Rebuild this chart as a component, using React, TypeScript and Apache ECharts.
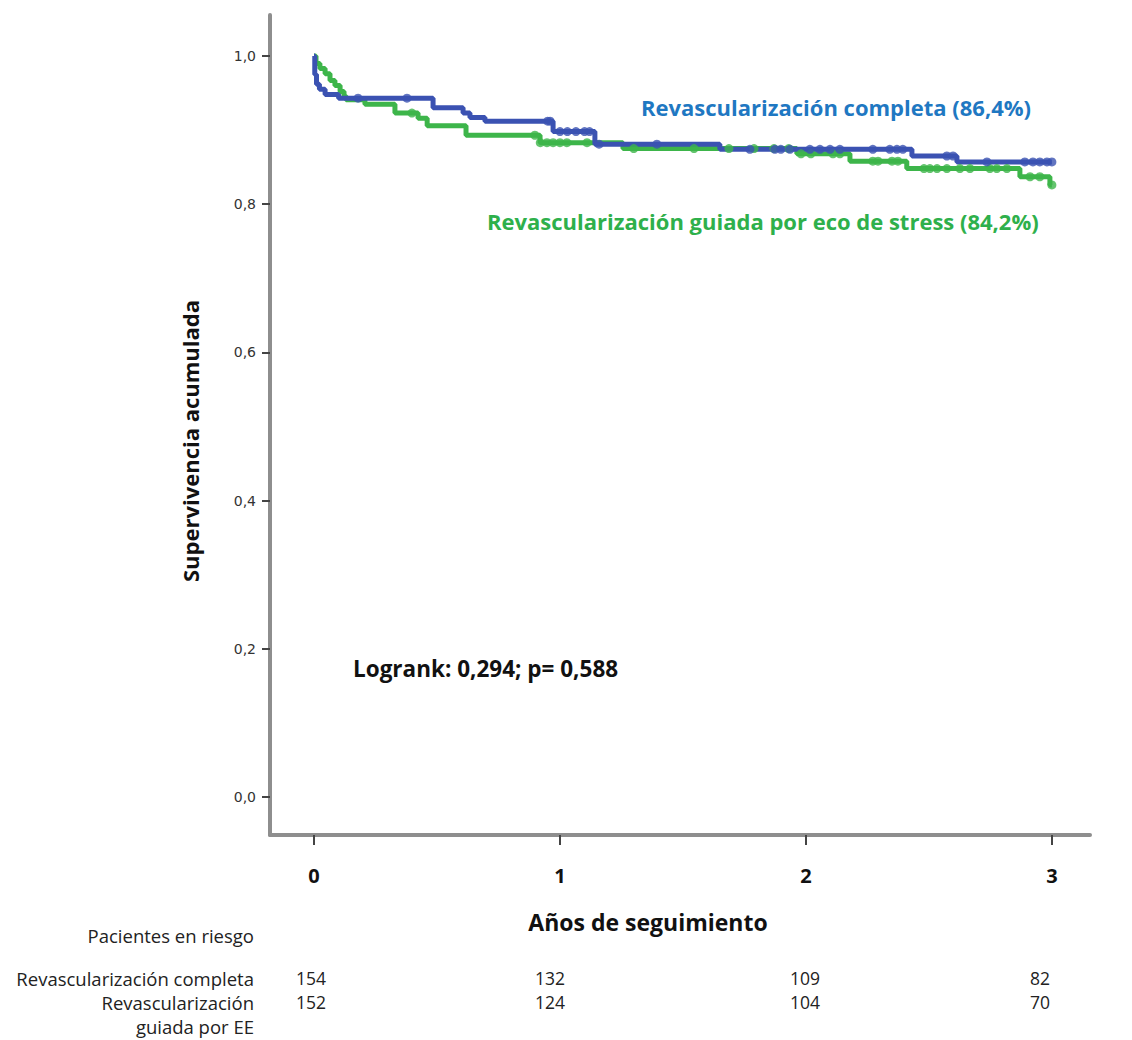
import React, { useEffect, useRef } from "react";
import * as echarts from "echarts";

// Kaplan-Meier step points [years, cumulative survival]
const blueSteps: [number, number][] = [
  [0, 1.0], [0.003, 0.975], [0.01, 0.962], [0.022, 0.955], [0.045, 0.948], [0.1, 0.943],
  [0.484, 0.93], [0.606, 0.923], [0.634, 0.917], [0.695, 0.912], [0.972, 0.898],
  [1.142, 0.881], [1.65, 0.874], [2.431, 0.865], [2.614, 0.857], [3.0, 0.857],
];
const greenSteps: [number, number][] = [
  [0, 1.0], [0.008, 0.99], [0.024, 0.983], [0.045, 0.976], [0.065, 0.967], [0.085, 0.96],
  [0.106, 0.952], [0.122, 0.946], [0.13, 0.941], [0.207, 0.935], [0.329, 0.923],
  [0.423, 0.916], [0.46, 0.906], [0.618, 0.893], [0.919, 0.883], [1.256, 0.875],
  [1.963, 0.868], [2.179, 0.858], [2.41, 0.848], [2.87, 0.837], [2.992, 0.826], [3.0, 0.826],
];
// censored times
const blueCensor = [0.179, 0.378, 0.95, 0.96, 1.0, 1.03, 1.065, 1.1, 1.12, 1.159, 1.394, 1.772,
  1.874, 1.898, 1.935, 2.016, 2.057, 2.098, 2.138, 2.272, 2.341, 2.37, 2.394, 2.573, 2.598,
  2.736, 2.89, 2.923, 2.951, 2.98, 3.0];
const greenCensor = [0.398, 0.898, 0.92, 0.947, 0.972, 1.0, 1.028, 1.11, 1.3, 1.545, 1.687,
  1.789, 1.87, 1.93, 1.98, 2.02, 2.11, 2.138, 2.272, 2.293, 2.35, 2.374, 2.48, 2.504, 2.533,
  2.573, 2.626, 2.667, 2.748, 2.776, 2.817, 2.911, 2.951, 3.0];

const xTicks = [0, 1, 2, 3];
const yTicks = [0, 0.2, 0.4, 0.6, 0.8, 1.0];

const riskHeader = "Pacientes en riesgo";
const riskGroups = ["Revascularización completa", "Revascularización", "guiada por EE"];
const riskBlue = ["154", "132", "109", "82"];
const riskGreen = ["152", "124", "104", "70"];

const labelBlue = "Revascularización completa (86,4%)";
const labelGreen = "Revascularización guiada por eco de stress (84,2%)";
const logrankText = "Logrank: 0,294; p= 0,588";
const xName = "Años de seguimiento";
const yName = "Supervivencia acumulada";

const BLUE = "#3b52b2";
const GREEN = "#3db54a";
const FONT = "'Open Sans', 'Noto Sans', sans-serif";

function survAt(steps: [number, number][], t: number): number {
  let s = steps[0][1];
  for (const [x, y] of steps) {
    if (x <= t) s = y;
  }
  return s;
}

export default function App() {
  const ref = useRef<HTMLDivElement>(null);
  useEffect(() => {
    if (!ref.current) return;
    const chart = echarts.init(ref.current, undefined, { renderer: "svg" });
    const riskX = [296, 535, 790, 1030];
    const txt = (x: number, y: number, text: string, size: number, opts: any = {}) => ({
      type: "text", x, y, rotation: opts.rotation || 0,
      style: {
        text, fill: opts.fill || "#222", fontFamily: FONT, fontWeight: opts.bold ? "bold" : "normal",
        fontSize: size, align: opts.align || "left", verticalAlign: "middle",
      },
    });
    const graphics: any[] = [
      txt(641, 107, labelBlue, 22, { bold: true, fill: "#1f78c2" }),
      txt(487, 221, labelGreen, 22, { bold: true, fill: "#2eb04b" }),
      txt(353, 668, logrankText, 22.5, { bold: true, fill: "#111" }),
      txt(648, 922, xName, 23, { bold: true, fill: "#111", align: "center" }),
      txt(190, 441, yName, 22, { bold: true, fill: "#111", align: "center", rotation: Math.PI / 2 }),
      txt(254, 935, riskHeader, 18.5, { align: "right" }),
      txt(254, 978, riskGroups[0], 18.5, { align: "right" }),
      txt(254, 1002, riskGroups[1], 18.5, { align: "right" }),
      txt(254, 1026, riskGroups[2], 18.5, { align: "right" }),
    ];
    riskBlue.forEach((v, i) => graphics.push(txt(riskX[i], 978, v, 17.5)));
    riskGreen.forEach((v, i) => graphics.push(txt(riskX[i], 1002, v, 17.5)));

    chart.setOption({
      animation: false,
      backgroundColor: "#ffffff",
      grid: { left: 270, right: 42, top: 15, bottom: 205, containLabel: false },
      xAxis: {
        type: "value", min: -0.179, max: 3.155,
        axisLine: { show: true, onZero: false, lineStyle: { color: "#8e8e8e", width: 4 } },
        axisTick: { show: true, customValues: xTicks, length: 10, lineStyle: { color: "#444", width: 2 } },
        axisLabel: { customValues: xTicks, margin: 30, fontSize: 20, fontWeight: "bold", color: "#111", fontFamily: FONT },
        splitLine: { show: false },
      },
      yAxis: {
        type: "value", min: -0.0513, max: 1.0553,
        axisLine: { show: true, onZero: false, lineStyle: { color: "#8e8e8e", width: 4 } },
        axisTick: { show: true, customValues: yTicks, length: 8, lineStyle: { color: "#444", width: 2 } },
        axisLabel: { customValues: yTicks, margin: 14, fontSize: 14, color: "#333", fontFamily: "'DejaVu Sans', sans-serif", formatter: (v: number) => v.toFixed(1).replace(".", ",") },
        splitLine: { show: false },
      },
      graphic: graphics,
      series: [
        { type: "line", step: "end", data: greenSteps, showSymbol: false, lineStyle: { color: GREEN, width: 5 }, itemStyle: { color: GREEN }, z: 2 },
        { type: "line", step: "end", data: blueSteps, showSymbol: false, lineStyle: { color: BLUE, width: 5 }, itemStyle: { color: BLUE }, z: 3 },
        { type: "scatter", data: greenCensor.map((t) => [t, survAt(greenSteps, t)]), symbol: "circle", symbolSize: 9, itemStyle: { color: GREEN }, z: 4 },
        { type: "scatter", data: blueCensor.map((t) => [t, survAt(blueSteps, t)]), symbol: "circle", symbolSize: 9, itemStyle: { color: BLUE }, z: 5 },
      ],
    });
    return () => chart.dispose();
  }, []);
  return <div ref={ref} style={{ position: "absolute", left: 0, top: 0, width: 1132, height: 1040 }} />;
}
